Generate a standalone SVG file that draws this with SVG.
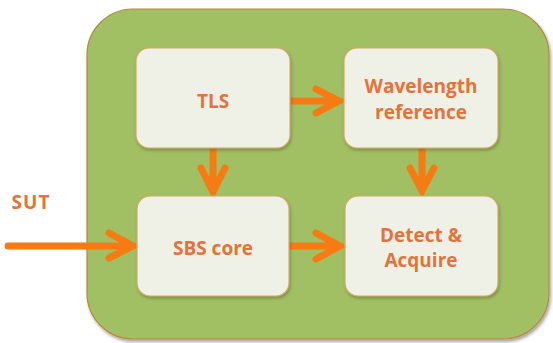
<svg xmlns="http://www.w3.org/2000/svg" width="553" height="343" viewBox="0 0 553 343">
  <defs>
    <filter id="shadow" x="-10%" y="-10%" width="120%" height="125%">
      <feDropShadow dx="1.5" dy="2.5" stdDeviation="1.8" flood-color="#000000" flood-opacity="0.35"/>
    </filter>
    <filter id="nshadow" x="-10%" y="-10%" width="120%" height="130%">
      <feDropShadow dx="1" dy="2" stdDeviation="1.5" flood-color="#4a5a20" flood-opacity="0.45"/>
    </filter>
  </defs>
  <style>
    .panel { fill: #a1c064; stroke: #b8883f; stroke-width: 1.2; }
    .node { fill: #eff1e6; stroke: #d6a76a; stroke-width: 1.2; }
    .lbl { font-family: "Open Sans", "Liberation Sans", sans-serif; font-weight: 700; font-size: 19px; fill: #e6723a; text-anchor: middle; }
    .arr { fill: none; stroke: #f77b13; stroke-width: 7; stroke-linecap: round; stroke-linejoin: miter; stroke-miterlimit: 10; }
  </style>

  <g id="panel">
    <rect class="panel" x="87" y="9" width="462" height="330" rx="46" ry="46" filter="url(#shadow)"/>
  </g>

  <g id="connectors">
    <path class="arr" d="M290,101 L338,101 M316,89 L339,101 L316,113"/>
    <path class="arr" d="M213,148 L213,191 M201,168 L213,192 L225,168"/>
    <path class="arr" d="M422,148 L422,190 M410,168 L422,191 L434,168"/>
    <path class="arr" d="M8,246 L132,246 M109,233 L133,246 L109,258"/>
    <path class="arr" d="M289,246 L339,246 M316,233 L340,246 L316,259"/>
  </g>

  <g id="tls">
    <rect class="node" x="136" y="48" width="154" height="100" rx="13" ry="13" filter="url(#nshadow)"/>
    <text class="lbl" x="213" y="108">TLS</text>
  </g>

  <g id="wavelength-reference">
    <rect class="node" x="344" y="48" width="154" height="100" rx="13" ry="13" filter="url(#nshadow)"/>
    <text class="lbl" x="421" y="93">Wavelength</text>
    <text class="lbl" x="421" y="119">reference</text>
  </g>

  <g id="sbs-core">
    <rect class="node" x="137" y="196" width="152" height="100" rx="13" ry="13" filter="url(#nshadow)"/>
    <text class="lbl" x="213" y="255">SBS core</text>
  </g>

  <g id="detect-acquire">
    <rect class="node" x="345" y="196" width="153" height="100" rx="13" ry="13" filter="url(#nshadow)"/>
    <text class="lbl" x="421" y="242">Detect &amp;</text>
    <text class="lbl" x="421" y="267">Acquire</text>
  </g>

  <g id="sut">
    <text class="lbl" x="31" y="209" letter-spacing="1">SUT</text>
  </g>
</svg>
